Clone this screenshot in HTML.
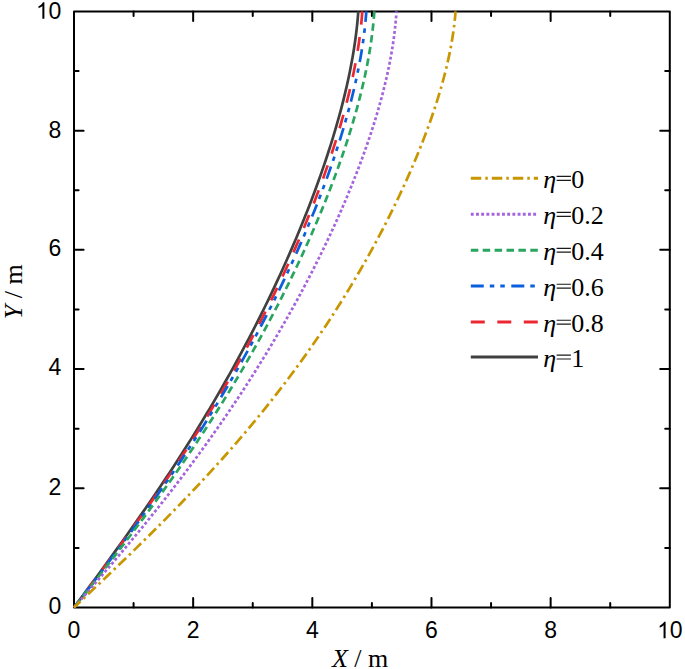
<!DOCTYPE html><html><head><meta charset="utf-8"><style>html,body{margin:0;padding:0;background:#fff;}svg{display:block;}</style></head><body>
<svg width="685" height="669" viewBox="0 0 685 669">
<path d="M133.58,607.50v-4.6 M133.58,11.45v4.6 M74.00,547.89h4.6 M669.80,547.89h-4.6 M193.16,607.50v-9.6 M193.16,11.45v9.6 M74.00,488.29h9.6 M669.80,488.29h-9.6 M252.74,607.50v-4.6 M252.74,11.45v4.6 M74.00,428.69h4.6 M669.80,428.69h-4.6 M312.32,607.50v-9.6 M312.32,11.45v9.6 M74.00,369.08h9.6 M669.80,369.08h-9.6 M371.90,607.50v-4.6 M371.90,11.45v4.6 M74.00,309.48h4.6 M669.80,309.48h-4.6 M431.48,607.50v-9.6 M431.48,11.45v9.6 M74.00,249.87h9.6 M669.80,249.87h-9.6 M491.06,607.50v-4.6 M491.06,11.45v4.6 M74.00,190.27h4.6 M669.80,190.27h-4.6 M550.64,607.50v-9.6 M550.64,11.45v9.6 M74.00,130.66h9.6 M669.80,130.66h-9.6 M610.22,607.50v-4.6 M610.22,11.45v4.6 M74.00,71.06h4.6 M669.80,71.06h-4.6" stroke="#000" stroke-width="2" fill="none" stroke-linecap="round"/>
<rect x="74.00" y="11.45" width="595.80" height="596.05" fill="none" stroke="#000" stroke-width="2" stroke-linejoin="round"/>
<g fill="none" stroke-width="2.70" stroke-linejoin="round">
<path d="M74.00,607.50 L77.68,602.53 L81.36,597.57 L85.03,592.60 L88.70,587.63 L92.35,582.66 L96.00,577.70 L99.64,572.73 L103.27,567.76 L106.88,562.80 L110.48,557.83 L114.07,552.86 L117.65,547.89 L121.20,542.93 L124.75,537.96 L128.27,532.99 L131.78,528.03 L135.27,523.06 L138.74,518.09 L142.20,513.13 L145.63,508.16 L149.04,503.19 L152.43,498.22 L155.81,493.26 L159.15,488.29 L162.48,483.32 L165.79,478.36 L169.07,473.39 L172.33,468.42 L175.56,463.45 L178.78,458.49 L181.96,453.52 L185.13,448.55 L188.27,443.59 L191.38,438.62 L194.47,433.65 L197.54,428.69 L200.58,423.72 L203.60,418.75 L206.59,413.78 L209.56,408.82 L212.50,403.85 L215.42,398.88 L218.31,393.92 L221.17,388.95 L224.01,383.98 L226.83,379.01 L229.62,374.05 L232.38,369.08 L235.12,364.11 L237.83,359.15 L240.52,354.18 L243.18,349.21 L245.82,344.24 L248.43,339.28 L251.02,334.31 L253.58,329.34 L256.12,324.38 L258.63,319.41 L261.12,314.44 L263.58,309.48 L266.02,304.51 L268.43,299.54 L270.82,294.57 L273.18,289.61 L275.52,284.64 L277.83,279.67 L280.12,274.71 L282.39,269.74 L284.62,264.77 L286.84,259.80 L289.02,254.84 L291.19,249.87 L293.32,244.90 L295.44,239.94 L297.52,234.97 L299.58,230.00 L301.62,225.03 L303.63,220.07 L305.61,215.10 L307.57,210.13 L309.50,205.17 L311.40,200.20 L313.28,195.23 L315.13,190.27 L316.95,185.30 L318.74,180.33 L320.50,175.36 L322.24,170.40 L323.95,165.43 L325.62,160.46 L327.27,155.50 L328.88,150.53 L330.47,145.56 L332.02,140.59 L333.54,135.63 L335.02,130.66 L336.47,125.69 L337.89,120.73 L339.27,115.76 L340.62,110.79 L341.93,105.82 L343.20,100.86 L344.43,95.89 L345.62,90.92 L346.77,85.96 L347.88,80.99 L348.95,76.02 L349.97,71.06 L350.94,66.09 L351.87,61.12 L352.75,56.15 L353.59,51.19 L354.37,46.22 L355.10,41.25 L355.77,36.29 L356.39,31.32 L356.96,26.35 L357.47,21.38 L357.91,16.42 L358.30,11.45" stroke="#404040"/>
<path d="M74.00,607.50 L77.75,602.53 L81.50,597.57 L85.24,592.60 L88.98,587.63 L92.70,582.66 L96.42,577.70 L100.12,572.73 L103.82,567.76 L107.50,562.80 L111.16,557.83 L114.81,552.86 L118.45,547.89 L122.07,542.93 L125.67,537.96 L129.26,532.99 L132.82,528.03 L136.37,523.06 L139.90,518.09 L143.41,513.13 L146.89,508.16 L150.36,503.19 L153.81,498.22 L157.23,493.26 L160.63,488.29 L164.01,483.32 L167.37,478.36 L170.70,473.39 L174.01,468.42 L177.29,463.45 L180.55,458.49 L183.79,453.52 L187.00,448.55 L190.18,443.59 L193.35,438.62 L196.48,433.65 L199.59,428.69 L202.68,423.72 L205.74,418.75 L208.77,413.78 L211.78,408.82 L214.77,403.85 L217.72,398.88 L220.65,393.92 L223.56,388.95 L226.44,383.98 L229.29,379.01 L232.12,374.05 L234.92,369.08 L237.70,364.11 L240.45,359.15 L243.18,354.18 L245.88,349.21 L248.55,344.24 L251.20,339.28 L253.82,334.31 L256.42,329.34 L258.99,324.38 L261.54,319.41 L264.06,314.44 L266.55,309.48 L269.02,304.51 L271.47,299.54 L273.89,294.57 L276.28,289.61 L278.65,284.64 L280.99,279.67 L283.31,274.71 L285.60,269.74 L287.87,264.77 L290.11,259.80 L292.33,254.84 L294.52,249.87 L296.68,244.90 L298.82,239.94 L300.93,234.97 L303.02,230.00 L305.08,225.03 L307.12,220.07 L309.12,215.10 L311.11,210.13 L313.06,205.17 L314.99,200.20 L316.88,195.23 L318.76,190.27 L320.60,185.30 L322.41,180.33 L324.20,175.36 L325.95,170.40 L327.68,165.43 L329.37,160.46 L331.04,155.50 L332.67,150.53 L334.27,145.56 L335.84,140.59 L337.38,135.63 L338.88,130.66 L340.35,125.69 L341.78,120.73 L343.17,115.76 L344.53,110.79 L345.85,105.82 L347.13,100.86 L348.38,95.89 L349.58,90.92 L350.74,85.96 L351.86,80.99 L352.93,76.02 L353.96,71.06 L354.94,66.09 L355.88,61.12 L356.76,56.15 L357.60,51.19 L358.38,46.22 L359.12,41.25 L359.79,36.29 L360.41,31.32 L360.98,26.35 L361.48,21.38 L361.93,16.42 L362.31,11.45" stroke="#EB2832" stroke-dasharray="14 12.5" stroke-dashoffset="5.50"/>
<path d="M74.00,607.50 L77.83,602.53 L81.65,597.57 L85.46,592.60 L89.26,587.63 L93.06,582.66 L96.84,577.70 L100.61,572.73 L104.37,567.76 L108.11,562.80 L111.84,557.83 L115.55,552.86 L119.25,547.89 L122.93,542.93 L126.59,537.96 L130.24,532.99 L133.86,528.03 L137.47,523.06 L141.05,518.09 L144.62,513.13 L148.16,508.16 L151.68,503.19 L155.18,498.22 L158.66,493.26 L162.11,488.29 L165.54,483.32 L168.95,478.36 L172.33,473.39 L175.69,468.42 L179.02,463.45 L182.33,458.49 L185.61,453.52 L188.87,448.55 L192.10,443.59 L195.31,438.62 L198.49,433.65 L201.65,428.69 L204.77,423.72 L207.88,418.75 L210.96,413.78 L214.01,408.82 L217.03,403.85 L220.03,398.88 L223.00,393.92 L225.95,388.95 L228.87,383.98 L231.76,379.01 L234.63,374.05 L237.47,369.08 L240.28,364.11 L243.07,359.15 L245.83,354.18 L248.57,349.21 L251.28,344.24 L253.96,339.28 L256.62,334.31 L259.25,329.34 L261.86,324.38 L264.44,319.41 L266.99,314.44 L269.52,309.48 L272.02,304.51 L274.50,299.54 L276.95,294.57 L279.38,289.61 L281.78,284.64 L284.15,279.67 L286.50,274.71 L288.82,269.74 L291.12,264.77 L293.39,259.80 L295.63,254.84 L297.85,249.87 L300.04,244.90 L302.21,239.94 L304.35,234.97 L306.46,230.00 L308.55,225.03 L310.61,220.07 L312.64,215.10 L314.64,210.13 L316.62,205.17 L318.57,200.20 L320.49,195.23 L322.39,190.27 L324.25,185.30 L326.09,180.33 L327.89,175.36 L329.67,170.40 L331.41,165.43 L333.13,160.46 L334.81,155.50 L336.46,150.53 L338.08,145.56 L339.67,140.59 L341.22,135.63 L342.74,130.66 L344.22,125.69 L345.66,120.73 L347.07,115.76 L348.44,110.79 L349.78,105.82 L351.07,100.86 L352.33,95.89 L353.54,90.92 L354.71,85.96 L355.83,80.99 L356.92,76.02 L357.95,71.06 L358.94,66.09 L359.88,61.12 L360.77,56.15 L361.61,51.19 L362.40,46.22 L363.13,41.25 L363.81,36.29 L364.43,31.32 L365.00,26.35 L365.50,21.38 L365.94,16.42 L366.32,11.45" stroke="#0A5FDC" stroke-dasharray="13 6 4.5 6 4.5 6.5" stroke-dashoffset="26.80"/>
<path d="M74.00,607.50 L77.97,602.53 L81.93,597.57 L85.89,592.60 L89.83,587.63 L93.76,582.66 L97.68,577.70 L101.58,572.73 L105.47,567.76 L109.34,562.80 L113.20,557.83 L117.03,552.86 L120.85,547.89 L124.66,542.93 L128.44,537.96 L132.20,532.99 L135.94,528.03 L139.66,523.06 L143.36,518.09 L147.04,513.13 L150.69,508.16 L154.32,503.19 L157.93,498.22 L161.51,493.26 L165.06,488.29 L168.60,483.32 L172.11,478.36 L175.59,473.39 L179.04,468.42 L182.47,463.45 L185.88,458.49 L189.26,453.52 L192.61,448.55 L195.93,443.59 L199.23,438.62 L202.50,433.65 L205.75,428.69 L208.97,423.72 L212.16,418.75 L215.32,413.78 L218.46,408.82 L221.56,403.85 L224.65,398.88 L227.70,393.92 L230.73,388.95 L233.72,383.98 L236.70,379.01 L239.64,374.05 L242.56,369.08 L245.45,364.11 L248.31,359.15 L251.15,354.18 L253.96,349.21 L256.74,344.24 L259.49,339.28 L262.22,334.31 L264.92,329.34 L267.60,324.38 L270.25,319.41 L272.87,314.44 L275.46,309.48 L278.03,304.51 L280.57,299.54 L283.08,294.57 L285.57,289.61 L288.03,284.64 L290.47,279.67 L292.87,274.71 L295.26,269.74 L297.61,264.77 L299.94,259.80 L302.24,254.84 L304.51,249.87 L306.76,244.90 L308.98,239.94 L311.17,234.97 L313.34,230.00 L315.47,225.03 L317.58,220.07 L319.67,215.10 L321.72,210.13 L323.74,205.17 L325.74,200.20 L327.71,195.23 L329.65,190.27 L331.55,185.30 L333.43,180.33 L335.28,175.36 L337.10,170.40 L338.88,165.43 L340.63,160.46 L342.36,155.50 L344.04,150.53 L345.70,145.56 L347.32,140.59 L348.90,135.63 L350.45,130.66 L351.96,125.69 L353.44,120.73 L354.87,115.76 L356.27,110.79 L357.63,105.82 L358.95,100.86 L360.22,95.89 L361.45,90.92 L362.64,85.96 L363.79,80.99 L364.89,76.02 L365.94,71.06 L366.94,66.09 L367.89,61.12 L368.79,56.15 L369.64,51.19 L370.43,46.22 L371.17,41.25 L371.85,36.29 L372.47,31.32 L373.04,26.35 L373.54,21.38 L373.97,16.42 L374.34,11.45" stroke="#28A55F" stroke-dasharray="7.5 4.4" stroke-dashoffset="9.40"/>
<path d="M74.00,607.50 L78.37,602.53 L82.73,597.57 L87.07,592.60 L91.39,587.63 L95.70,582.66 L99.99,577.70 L104.26,572.73 L108.51,567.76 L112.73,562.80 L116.94,557.83 L121.12,552.86 L125.29,547.89 L129.42,542.93 L133.54,537.96 L137.62,532.99 L141.69,528.03 L145.72,523.06 L149.73,518.09 L153.72,513.13 L157.68,508.16 L161.61,503.19 L165.51,498.22 L169.38,493.26 L173.23,488.29 L177.04,483.32 L180.83,478.36 L184.59,473.39 L188.32,468.42 L192.02,463.45 L195.69,458.49 L199.33,453.52 L202.94,448.55 L206.52,443.59 L210.07,438.62 L213.59,433.65 L217.08,428.69 L220.54,423.72 L223.97,418.75 L227.37,413.78 L230.74,408.82 L234.08,403.85 L237.39,398.88 L240.67,393.92 L243.92,388.95 L247.14,383.98 L250.33,379.01 L253.49,374.05 L256.61,369.08 L259.71,364.11 L262.78,359.15 L265.82,354.18 L268.83,349.21 L271.82,344.24 L274.77,339.28 L277.69,334.31 L280.58,329.34 L283.44,324.38 L286.28,319.41 L289.08,314.44 L291.86,309.48 L294.61,304.51 L297.33,299.54 L300.02,294.57 L302.68,289.61 L305.31,284.64 L307.91,279.67 L310.48,274.71 L313.03,269.74 L315.54,264.77 L318.03,259.80 L320.49,254.84 L322.91,249.87 L325.31,244.90 L327.68,239.94 L330.02,234.97 L332.33,230.00 L334.61,225.03 L336.86,220.07 L339.08,215.10 L341.26,210.13 L343.42,205.17 L345.54,200.20 L347.64,195.23 L349.70,190.27 L351.73,185.30 L353.72,180.33 L355.69,175.36 L357.61,170.40 L359.51,165.43 L361.37,160.46 L363.19,155.50 L364.98,150.53 L366.73,145.56 L368.44,140.59 L370.12,135.63 L371.75,130.66 L373.35,125.69 L374.90,120.73 L376.41,115.76 L377.89,110.79 L379.31,105.82 L380.69,100.86 L382.03,95.89 L383.32,90.92 L384.56,85.96 L385.76,80.99 L386.90,76.02 L387.99,71.06 L389.03,66.09 L390.01,61.12 L390.94,56.15 L391.81,51.19 L392.62,46.22 L393.37,41.25 L394.06,36.29 L394.68,31.32 L395.24,26.35 L395.73,21.38 L396.15,16.42 L396.50,11.45" stroke="#A564DC" stroke-dasharray="2.9 2.3" stroke-dashoffset="0.00"/>
<path d="M74.00,607.50 L79.27,602.53 L84.54,597.57 L89.80,592.60 L95.05,587.63 L100.29,582.66 L105.51,577.70 L110.72,572.73 L115.91,567.76 L121.08,562.80 L126.23,557.83 L131.35,552.86 L136.45,547.89 L141.53,542.93 L146.57,537.96 L151.59,532.99 L156.57,528.03 L161.53,523.06 L166.45,518.09 L171.33,513.13 L176.18,508.16 L181.00,503.19 L185.78,498.22 L190.51,493.26 L195.22,488.29 L199.88,483.32 L204.50,478.36 L209.08,473.39 L213.62,468.42 L218.12,463.45 L222.57,458.49 L226.99,453.52 L231.36,448.55 L235.69,443.59 L239.97,438.62 L244.21,433.65 L248.41,428.69 L252.57,423.72 L256.68,418.75 L260.75,413.78 L264.77,408.82 L268.75,403.85 L272.68,398.88 L276.58,393.92 L280.43,388.95 L284.23,383.98 L288.00,379.01 L291.72,374.05 L295.40,369.08 L299.03,364.11 L302.62,359.15 L306.18,354.18 L309.69,349.21 L313.15,344.24 L316.58,339.28 L319.97,334.31 L323.32,329.34 L326.62,324.38 L329.89,319.41 L333.12,314.44 L336.31,309.48 L339.46,304.51 L342.57,299.54 L345.65,294.57 L348.68,289.61 L351.68,284.64 L354.65,279.67 L357.57,274.71 L360.46,269.74 L363.31,264.77 L366.13,259.80 L368.91,254.84 L371.66,249.87 L374.37,244.90 L377.04,239.94 L379.68,234.97 L382.29,230.00 L384.86,225.03 L387.39,220.07 L389.89,215.10 L392.35,210.13 L394.78,205.17 L397.18,200.20 L399.54,195.23 L401.86,190.27 L404.15,185.30 L406.40,180.33 L408.62,175.36 L410.80,170.40 L412.94,165.43 L415.04,160.46 L417.11,155.50 L419.13,150.53 L421.12,145.56 L423.07,140.59 L424.97,135.63 L426.84,130.66 L428.66,125.69 L430.44,120.73 L432.17,115.76 L433.86,110.79 L435.50,105.82 L437.09,100.86 L438.63,95.89 L440.12,90.92 L441.56,85.96 L442.94,80.99 L444.27,76.02 L445.54,71.06 L446.75,66.09 L447.91,61.12 L448.99,56.15 L450.02,51.19 L450.97,46.22 L451.86,41.25 L452.67,36.29 L453.41,31.32 L454.07,26.35 L454.65,21.38 L455.15,16.42 L455.56,11.45" stroke="#C89600" stroke-dasharray="10.5 4 2.5 4" stroke-dashoffset="1.60"/>
</g>
<g font-family="'Liberation Sans', sans-serif" font-size="23" fill="#000">
<text x="74.00" y="638.20" text-anchor="middle">0</text>
<text x="193.16" y="638.20" text-anchor="middle">2</text>
<text x="312.32" y="638.20" text-anchor="middle">4</text>
<text x="431.48" y="638.20" text-anchor="middle">6</text>
<text x="550.64" y="638.20" text-anchor="middle">8</text>
<path transform="translate(657.01,638.20) scale(0.01123,-0.01123)" d="M763,0H583V1147Q521,1088 420,1030Q319,971 240,941V1116Q382,1183 488,1278Q594,1373 638,1464H763Z"/>
<text x="669.80" y="638.20">0</text>
<text x="61.40" y="613.60" text-anchor="end">0</text>
<text x="61.40" y="494.60" text-anchor="end">2</text>
<text x="61.40" y="375.40" text-anchor="end">4</text>
<text x="61.40" y="256.20" text-anchor="end">6</text>
<text x="61.40" y="138.20" text-anchor="end">8</text>
<path transform="translate(35.82,18.80) scale(0.01123,-0.01123)" d="M763,0H583V1147Q521,1088 420,1030Q319,971 240,941V1116Q382,1183 488,1278Q594,1373 638,1464H763Z"/>
<text x="48.61" y="18.80">0</text>
</g>
<g font-family="'Liberation Serif', serif" font-size="26" fill="#000">
<text x="331.96" y="667.0"><tspan font-style="italic">X</tspan> / m</text>
<text transform="translate(22.3,319.3) rotate(-90)" x="0" y="0"><tspan font-style="italic">Y</tspan> / m</text>
</g>
<g font-family="'Liberation Serif', serif" font-size="26" fill="#000">
<path d="M470.8,178.30H538" stroke="#C89600" stroke-width="3" fill="none" stroke-dasharray="10.5 4 2.5 4"/>
<text x="543.27" y="187.80" font-style="italic">η</text>
<text x="571.20" y="187.80">0</text>
<path d="M470.8,214.30H538" stroke="#A564DC" stroke-width="3" fill="none" stroke-dasharray="2.9 2.3"/>
<text x="543.27" y="223.80" font-style="italic">η</text>
<text x="571.20" y="223.80">0.2</text>
<path d="M470.8,250.20H538" stroke="#28A55F" stroke-width="3" fill="none" stroke-dasharray="7.5 4.4"/>
<text x="543.27" y="259.70" font-style="italic">η</text>
<text x="571.20" y="259.70">0.4</text>
<path d="M470.8,286.10H538" stroke="#0A5FDC" stroke-width="3" fill="none" stroke-dasharray="13 6 4.5 6 4.5 6.5"/>
<text x="543.27" y="295.60" font-style="italic">η</text>
<text x="571.20" y="295.60">0.6</text>
<path d="M470.8,322.10H538" stroke="#EB2832" stroke-width="3" fill="none" stroke-dasharray="14 12.5"/>
<text x="543.27" y="331.60" font-style="italic">η</text>
<text x="571.20" y="331.60">0.8</text>
<path d="M470.8,357.00H538" stroke="#404040" stroke-width="3" fill="none"/>
<text x="543.27" y="366.50" font-style="italic">η</text>
<text x="571.20" y="366.50">1</text>
<path d="M556.6,176.45H570.9M556.6,180.30H570.9M556.6,212.45H570.9M556.6,216.30H570.9M556.6,248.35H570.9M556.6,252.20H570.9M556.6,284.25H570.9M556.6,288.10H570.9M556.6,320.25H570.9M556.6,324.10H570.9M556.6,355.15H570.9M556.6,359.00H570.9" stroke="#1a1a1a" stroke-width="1.2" fill="none"/>
</g>
</svg></body></html>
